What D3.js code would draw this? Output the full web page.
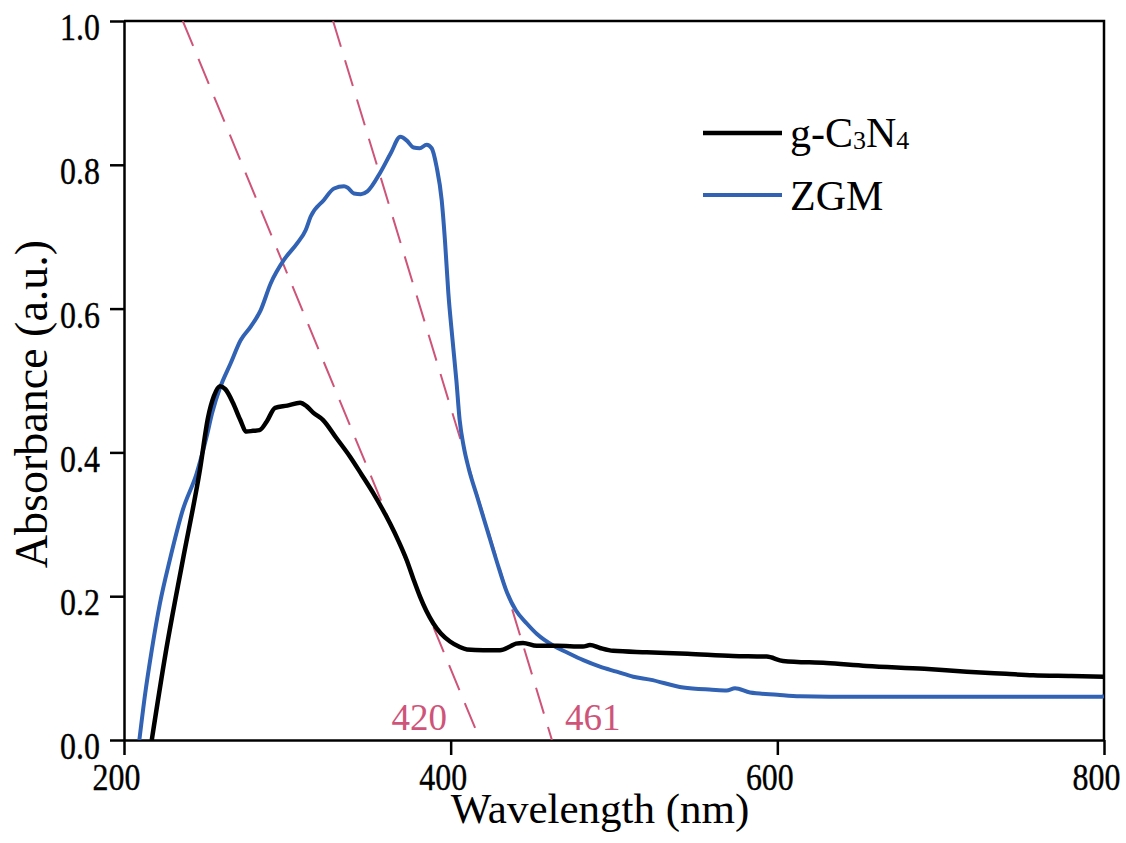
<!DOCTYPE html>
<html>
<head>
<meta charset="utf-8">
<script src="https://cdn.jsdelivr.net/npm/d3@7"></script>
<style>
  html, body { margin: 0; padding: 0; background: #fff; }
  svg { display: block; font-family: "Liberation Serif", "Times New Roman", serif; }
</style>
</head>
<body>
<svg id="chart" width="1126" height="843"></svg>
<script>
// ---- data ----
const gcnWavelength = [217, 225.5, 236, 246.5, 251.5, 255, 258.8, 262, 266.7, 271, 275, 279, 283, 287.4, 292.5, 300, 307.8, 311.9, 316, 321.9, 330, 338.4, 345.5, 352.7, 358, 362.9, 368, 373.1, 377, 381.3, 385, 389.4, 394, 399.6, 405, 410, 420, 430.2, 436.3, 440, 444.3, 452.7, 465, 481, 485.3, 491.4, 499.5, 520, 545, 572.9, 593.5, 603.5, 630, 654.7, 690, 716, 740, 756.6, 780, 800];
const gcnAbsorbance = [0, 0.121, 0.25, 0.376, 0.449, 0.478, 0.492, 0.488, 0.469, 0.446, 0.429, 0.430, 0.431, 0.443, 0.462, 0.465, 0.469, 0.464, 0.455, 0.445, 0.420, 0.394, 0.369, 0.343, 0.322, 0.301, 0.277, 0.250, 0.225, 0.199, 0.180, 0.162, 0.148, 0.137, 0.130, 0.126, 0.125, 0.125, 0.130, 0.134, 0.135, 0.131, 0.131, 0.130, 0.132, 0.128, 0.124, 0.122, 0.120, 0.117, 0.116, 0.110, 0.107, 0.103, 0.099, 0.095, 0.092, 0.090, 0.089, 0.088];

const zgmWavelength = [209.4, 213, 217, 222, 228, 236, 244.5, 250.6, 254, 258.8, 265.3, 271.4, 277.6, 283.7, 289.8, 298, 306.1, 311.2, 314.3, 322.4, 328.6, 334.7, 337, 340.8, 345, 349, 357.1, 363.3, 369.2, 373, 377.3, 381, 385.3, 388.4, 391.4, 394.5, 396.5, 398.6, 401, 403.5, 405.5, 408, 411, 416, 422, 428, 434.5, 440, 446.6, 453, 463, 471, 481.2, 491.4, 501.6, 511.8, 522, 542.4, 560, 569, 574.1, 583.3, 600, 613.9, 650, 695.5, 750, 797.6, 800];
const zgmAbsorbance = [0, 0.065, 0.125, 0.190, 0.250, 0.320, 0.371, 0.422, 0.455, 0.490, 0.524, 0.556, 0.575, 0.598, 0.635, 0.668, 0.691, 0.709, 0.728, 0.751, 0.767, 0.770, 0.768, 0.760, 0.759, 0.763, 0.790, 0.816, 0.839, 0.834, 0.824, 0.823, 0.828, 0.823, 0.797, 0.751, 0.695, 0.621, 0.560, 0.500, 0.445, 0.408, 0.378, 0.340, 0.295, 0.250, 0.205, 0.180, 0.162, 0.147, 0.131, 0.122, 0.111, 0.102, 0.095, 0.088, 0.084, 0.073, 0.070, 0.069, 0.072, 0.066, 0.063, 0.061, 0.060, 0.060, 0.060, 0.060, 0.061];

// tangent (band-edge) lines: [wavelength at A=1.0, wavelength where line meets A=0]
const edgeTop = [236, 328];
const edgeBottom = [418, 462];
const edgeLabels = ["420", "461"];

const xTicks = [200, 400, 600, 800];
const yTicks = [0.0, 0.2, 0.4, 0.6, 0.8, 1.0];
const seriesNames = ["g-C3N4", "ZGM"];
const seriesColors = ["#000000", "#3162b3"];
const edgeColor = "#cf5479";

// ---- layout ----
const svg = d3.select("#chart");
const mLeft = 124, mRight = 1104, mTop = 21, mBottom = 740;
const x = d3.scaleLinear().domain([200, 800]).range([mLeft, mRight]);
const y = d3.scaleLinear().domain([0, 1.0]).range([mBottom, mTop]);
const SX = 0.84;

svg.append("defs").append("clipPath").attr("id", "clip")
  .append("rect").attr("x", mLeft).attr("y", mTop).attr("width", mRight - mLeft).attr("height", mBottom - mTop);

// frame (top + right)
svg.append("path")
  .attr("d", `M${mLeft},${mTop}H${mRight}V${mBottom}`)
  .attr("fill", "none").attr("stroke", "#000").attr("stroke-width", 2.5);

// axes
const xAxis = svg.append("g").attr("transform", `translate(0,${mBottom})`)
  .call(d3.axisBottom(x).tickValues(xTicks).tickFormat(d3.format("d")).tickSize(15).tickSizeOuter(0));
const yAxis = svg.append("g").attr("transform", `translate(${mLeft},0)`)
  .call(d3.axisLeft(y).tickValues(yTicks).tickFormat(d3.format(".1f")).tickSize(14).tickSizeOuter(0));

[xAxis, yAxis].forEach(g => {
  g.select(".domain").attr("stroke", "#000").attr("stroke-width", 2.5);
  g.selectAll(".tick line").attr("stroke", "#000").attr("stroke-width", 2.5);
  g.selectAll(".tick text").attr("fill", "#000").attr("font-size", 38)
    .attr("stroke", "#000").attr("stroke-width", 0.4)
    .attr("font-family", "Liberation Serif, Times New Roman, serif");
});
xAxis.selectAll(".tick text").attr("dy", 0).attr("y", 50).attr("x", -8 / SX)
  .attr("transform", `scale(${SX},1)`);
yAxis.selectAll(".tick text").attr("dy", 0).attr("y", 18.6).attr("x", -24 / SX)
  .attr("transform", `scale(${SX},1)`);

// axis titles
svg.append("text").attr("x", 600).attr("y", 823).attr("text-anchor", "middle")
  .attr("font-size", 43).attr("fill", "#000").text("Wavelength (nm)");
svg.append("text").attr("transform", "translate(47,404) rotate(-90)").attr("text-anchor", "middle")
  .attr("font-size", 46).attr("fill", "#000").text("Absorbance (a.u.)");

const plot = svg.append("g").attr("clip-path", "url(#clip)");

// tangent lines
edgeTop.forEach((t, i) => {
  plot.append("line")
    .attr("x1", x(t)).attr("y1", y(1.0))
    .attr("x2", x(edgeBottom[i])).attr("y2", y(0))
    .attr("stroke", edgeColor).attr("stroke-width", 2).attr("stroke-dasharray", "27,14");
});

// curves
const line = d3.line().x(d => x(d[0])).y(d => y(d[1])).curve(d3.curveMonotoneX);
const gcn = gcnWavelength.map((w, i) => [w, gcnAbsorbance[i]]);
const zgm = zgmWavelength.map((w, i) => [w, zgmAbsorbance[i]]);
plot.append("path").datum(zgm).attr("d", line).attr("fill", "none")
  .attr("stroke", seriesColors[1]).attr("stroke-width", 4).attr("stroke-linejoin", "round");
plot.append("path").datum(gcn).attr("d", line).attr("fill", "none")
  .attr("stroke", seriesColors[0]).attr("stroke-width", 4.5).attr("stroke-linejoin", "round");

// edge labels
svg.append("text").attr("x", x(edgeBottom[0]) - 33).attr("y", 730).attr("text-anchor", "end")
  .attr("font-size", 37).attr("fill", edgeColor).text(edgeLabels[0]);
svg.append("text").attr("x", x(edgeBottom[1]) + 13).attr("y", 730).attr("text-anchor", "start")
  .attr("font-size", 37).attr("fill", edgeColor).text(edgeLabels[1]);

// legend
const legendY = [133, 195];
const legendBase = [147, 210];
seriesNames.forEach((name, i) => {
  svg.append("line").attr("x1", 703).attr("x2", 782).attr("y1", legendY[i]).attr("y2", legendY[i])
    .attr("stroke", seriesColors[i]).attr("stroke-width", i === 0 ? 4.5 : 4);
  const t = svg.append("text").attr("x", 790).attr("y", legendBase[i]).attr("font-size", 42).attr("fill", "#000");
  if (name === "g-C3N4") {
    t.append("tspan").text("g-C");
    t.append("tspan").attr("font-size", 26).attr("dy", 2).text("3");
    t.append("tspan").attr("dy", -2).text("N");
    t.append("tspan").attr("font-size", 26).attr("dy", 2).text("4");
  } else {
    t.text(name);
  }
});
</script>
</body>
</html>
